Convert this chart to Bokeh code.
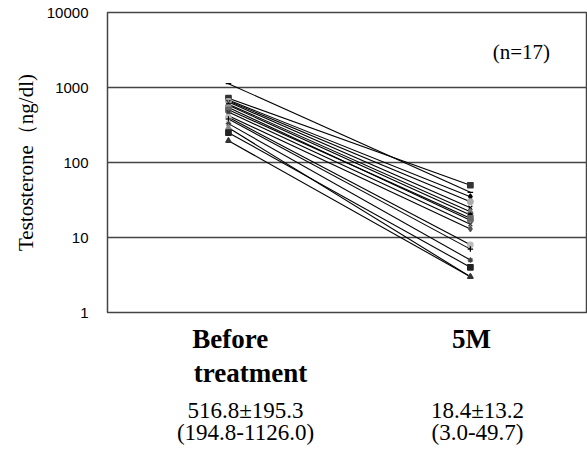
from bokeh.plotting import figure
from bokeh.models import (Range1d, FixedTicker, PrintfTickFormatter,
                          LinearAxis, Label, ColumnDataSource)
from bokeh.embed import file_html
from bokeh.resources import INLINE

# ---- data ----
categories = ["Before treatment", "5M"]
category_labels = ["Before\u00a0\u00a0\u00a0\u00a0\u00a0\u00a0\ntreatment", "5M"]
before = [1126.0, 720, 680, 660, 640, 600, 580, 540, 505, 470, 420, 400, 380, 330, 290, 250, 194.8]
after_5m = [40, 49.7, 35, 30, 25, 22, 20, 17, 18, 15, 13, 8, 7, 5, 3.0, 4, 3.0]
summary_mean_sd = ["516.8±195.3", "18.4±13.2"]
summary_range = ["(194.8-1126.0)", "(3.0-49.7)"]
n_label = "(n=17)"
y_ticks = [1, 10, 100, 1000, 10000]
y_title = "Testosterone（ng/dl)"

markers = ["dash", "square", "diamond", "circle", "x", "triangle", "asterisk", "circle",
           "square", "x", "diamond", "circle", "cross", "asterisk", "triangle", "square", "triangle"]
colors = ["black", "#333333", "black", "#aaaaaa", "black", "#777777", "black", "#999999",
          "#666666", "#333333", "#555555", "#bbbbbb", "black", "#444444", "#888888", "#222222", "#333333"]

SERIF = "Liberation Serif"
SANS = "Liberation Sans"

# category slots: category i is centred at i + 0.5
cat_pos = {c: i + 0.5 for i, c in enumerate(categories)}
tick_positions = [cat_pos[c] for c in categories]

p = figure(width=587, height=452, x_range=Range1d(0, 1.98),
           y_range=Range1d(1, 10000), y_axis_type="log", x_axis_location=None,
           output_backend="svg", toolbar_location=None,
           min_border_left=107, min_border_right=1, min_border_top=12, min_border_bottom=140)

# ranges used only to place the text rows under the plot
p.extra_x_ranges = {"cat_text": Range1d(-0.147, 2.020), "stat_text": Range1d(-0.095, 1.970)}

p.background_fill_color = "white"
p.border_fill_color = "white"
p.outline_line_color = "#444444"
p.outline_line_width = 1.5

# grid
p.xgrid.grid_line_color = None
p.ygrid.grid_line_color = "#444444"
p.ygrid.grid_line_width = 1.5
p.ygrid.ticker = FixedTicker(ticks=y_ticks)

# y axis
p.yaxis.ticker = FixedTicker(ticks=y_ticks)
p.yaxis.formatter = PrintfTickFormatter(format="%d")
p.yaxis.axis_line_color = None
p.yaxis.major_tick_line_color = None
p.yaxis.minor_tick_line_color = None
p.yaxis.major_label_standoff = 13
p.yaxis.major_label_text_font = SANS
p.yaxis.major_label_text_font_size = "15px"
p.yaxis.major_label_text_color = "black"
p.yaxis.axis_label = y_title
p.yaxis.axis_label_text_font = SERIF
p.yaxis.axis_label_text_font_style = "normal"
p.yaxis.axis_label_text_font_size = "21px"
p.yaxis.axis_label_text_color = "black"
p.yaxis.axis_label_standoff = 6

# x axis: category names
xa = LinearAxis(
    x_range_name="cat_text",
    ticker=FixedTicker(ticks=tick_positions),
    major_label_overrides={cat_pos[c]: l for c, l in zip(categories, category_labels)},
    axis_line_color=None, major_tick_line_color=None, minor_tick_line_color=None,
    major_label_text_font=SERIF, major_label_text_font_style="bold",
    major_label_text_font_size="27px", major_label_text_color="black",
    major_label_text_line_height=1.15,
    major_label_standoff=5)
p.add_layout(xa, "below")

# second axis: summary statistics
stats = LinearAxis(
    x_range_name="stat_text",
    ticker=FixedTicker(ticks=tick_positions),
    major_label_overrides={cat_pos[c]: f"{m}\n{r}" for c, m, r in zip(categories, summary_mean_sd, summary_range)},
    axis_line_color=None, major_tick_line_color=None, minor_tick_line_color=None,
    major_label_text_font=SERIF, major_label_text_font_size="23px",
    major_label_text_color="black", major_label_text_line_height=0.9,
    major_label_standoff=0)
p.add_layout(stats, "below")

# data lines
n = len(before)
x0, x1 = cat_pos[categories[0]], cat_pos[categories[1]]
p.multi_line(xs=[[x0, x1] for _ in range(n)],
             ys=[[b, a] for b, a in zip(before, after_5m)],
             line_color="black", line_width=1.1)

src = ColumnDataSource(dict(
    x=[x0] * n + [x1] * n,
    y=before + after_5m,
    marker=markers + markers,
    color=colors + colors,
))
p.scatter(x="x", y="y", marker="marker", source=src, size=5.5,
          fill_color="color", line_color="color", line_width=1.2)

p.add_layout(Label(x=1.711, y=3000, text=n_label, text_align="center", text_baseline="middle",
                   text_font=SERIF, text_font_size="21px", text_color="black"))

open("out.html", "w").write(file_html(p, INLINE))
